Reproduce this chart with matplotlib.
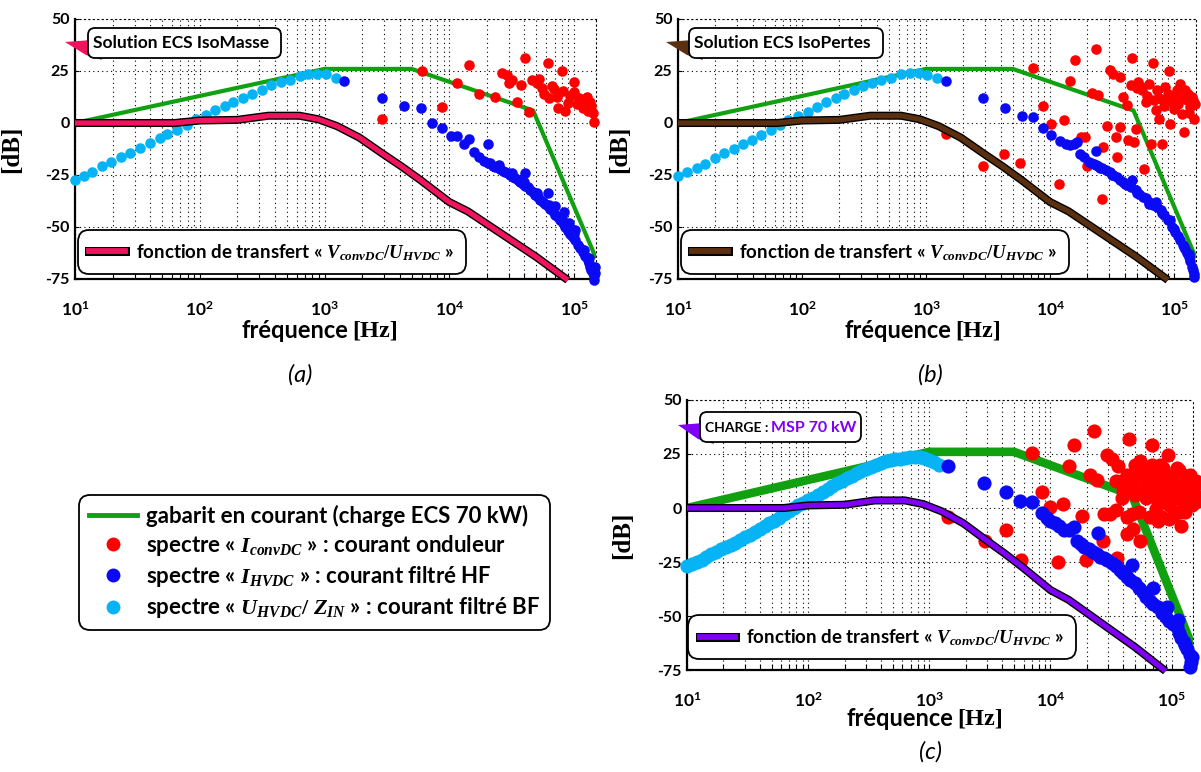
import numpy as np
import matplotlib
matplotlib.use('Agg')
import matplotlib.pyplot as plt
from matplotlib.lines import Line2D
from matplotlib.patches import FancyBboxPatch, Polygon
from matplotlib.transforms import IdentityTransform
import matplotlib.patheffects as pe
from matplotlib.ticker import FixedLocator, LogLocator, NullFormatter

plt.rcParams['font.family'] = ['Lato', 'DejaVu Sans']
plt.rcParams['font.weight'] = 'bold'
plt.rcParams['mathtext.fontset'] = 'custom'
plt.rcParams['mathtext.rm'] = 'Liberation Serif'
plt.rcParams['mathtext.it'] = 'Liberation Serif:italic'
plt.rcParams['mathtext.bf'] = 'Lato:bold'

# ---------------- data ----------------
x_ticks = [10, 100, 1000, 10000, 100000]
x_ticklabels = [r'$\mathbf{10^{1}}$', r'$\mathbf{10^{2}}$', r'$\mathbf{10^{3}}$',
                r'$\mathbf{10^{4}}$', r'$\mathbf{10^{5}}$']
y_ticks = [-75, -50, -25, 0, 25, 50]
y_ticklabels = ['-75', '-50', '-25', '0', '25', '50']

# current template (gabarit) [Hz], [dB]
gab_f = [10, 1000, 5000, 47000, 150000]
gab_db = [0, 26, 26, 6, -65]

# transfer function V_convDC/U_HVDC
tf_f = [10, 63, 100, 200, 355, 630, 890, 1260, 1900, 2880, 4170, 5900, 10000,
        14100, 25100, 50100, 89100]
tf_db = [0, 0, 1.2, 1.5, 3.5, 3.5, 1.8, -1.5, -7, -14.5, -21, -27.5, -38,
         -42.5, -52.5, -64.5, -75.5]

# ---- panel (a) : log10(f) and dB ----
cyan_a_logf = [1.00, 1.07, 1.14, 1.22, 1.29, 1.37, 1.44, 1.52, 1.60, 1.68, 1.74, 1.82,
               1.90, 1.97, 2.05, 2.12, 2.20, 2.27, 2.35, 2.42, 2.50, 2.57, 2.65, 2.72,
               2.80, 2.87, 2.94, 3.01, 3.09]
cyan_a_db = [-27.6, -25.5, -23.6, -20.8, -18.8, -16.3, -14.2, -12.0, -9.6, -7.2, -5.4, -3.2,
             -1.1, 2.1, 4.0, 6.1, 8.0, 10.1, 12.2, 14.1, 16.0, 18.1, 19.7, 20.8,
             22.5, 23.5, 23.6, 23.4, 21.6]

blue_a_logf = [3.16, 3.46, 3.64, 3.77, 3.86, 3.94, 4.01, 4.06, 4.12, 4.16, 4.31, 4.20, 4.24,
               4.28, 4.31, 4.33, 4.35, 4.37, 4.39, 4.41, 4.43, 4.45, 4.47, 4.49, 4.51, 4.53,
               4.55, 4.57, 4.59, 4.61, 4.63, 4.65, 4.67, 4.69, 4.71, 4.73, 4.75, 4.77, 4.79,
               4.81, 4.83, 4.85, 4.87, 4.89, 4.91, 4.93, 4.95, 4.97, 4.99, 5.01, 5.03, 5.05,
               5.07, 5.09, 5.11, 5.12, 5.13, 5.14, 5.15, 5.16, 5.16, 5.17, 5.17,
               4.40, 4.50, 4.60, 4.70, 4.80, 4.90, 5.00, 5.08, 5.12,
               4.61, 4.79, 4.92, 5.01, 4.85, 4.96]
blue_a_db = [20, 12, 8, 7.1, 0.2, -2.6, -6.3, -6.3, -10.1, -7.8, -10.1, -13.8, -16.2,
             -18.5, -19.4, -19.0, -20.5, -21.0, -21.0, -22.0, -23.0, -23.5, -24.2, -25.0, -26.0, -26.5,
             -27.4, -28.5, -29.5, -30.5, -31.0, -32.0, -33.0, -34.5, -35.4, -37.0, -38.0, -39.0, -40.0,
             -41.5, -42.5, -44.0, -45.0, -46.5, -48.0, -50.0, -52.0, -53.5, -55.0, -56.3, -58.5, -60.0,
             -62.0, -64.0, -66.0, -67.5, -69.0, -70.5, -72.0, -73.5, -75.5, -69.0, -72.0,
             -20.0, -24.0, -28.5, -33.5, -39.5, -45.5, -53.5, -61.0, -65.0,
             -24.2, -33.8, -42.6, -51.4, -40.0, -48.0]

red_a_logf = [3.46, 3.78, 3.94, 4.06, 4.16, 4.24, 4.37, 4.42, 4.46, 4.48, 4.50, 4.54, 4.575,
              4.61, 4.64, 4.66, 4.70, 4.72, 4.74, 4.76, 4.79, 4.80, 4.82, 4.84, 4.86, 4.87,
              4.90, 4.91, 4.93, 4.95, 4.97, 5.00, 5.00, 5.02, 5.04, 5.06, 5.07, 5.09, 5.10,
              5.11, 5.13, 5.14, 5.15, 5.16]
red_a_db = [1.8, 25.1, 7.8, 19.4, 27.9, 13.8, 12.7, 24.2, 23.0, 19.4, 20.5, 10.2, 18.3,
            31.4, 5.4, 20.7, 19.0, 21.0, 17.0, 14.0, 28.7, 11.9, 18.0, 16.5, 12.5, 7.0,
            25.1, 15.5, 6.0, 9.5, 13.0, 19.9, 15.0, 9.3, 12.0, 11.0, 7.0, 9.0, 12.5,
            6.0, 10.0, 8.0, 5.0, 0.6]

# ---- panel (b) ----
cyan_b_logf = [1.00, 1.07, 1.15, 1.22, 1.30, 1.37, 1.45, 1.52, 1.60, 1.67, 1.75, 1.82,
               1.89, 1.97, 2.05, 2.12, 2.19, 2.27, 2.34, 2.42, 2.49, 2.56, 2.64, 2.72,
               2.80, 2.87, 2.94, 3.01, 3.09]
cyan_b_db = [-25.6, -23.6, -21.5, -19.6, -16.7, -14.4, -12.3, -10.3, -8.3, -5.9, -3.5, -1.1,
             1.6, 3.2, 5.3, 7.7, 10.1, 12.0, 14.1, 16.0, 17.6, 19.2, 20.5, 21.8,
             23.4, 24.0, 24.0, 22.9, 21.8]

blue_b_logf = [3.16, 3.46, 3.64, 3.77, 3.86, 3.94, 4.01, 4.08, 4.13, 4.16, 4.19, 4.22, 4.37,
               4.24, 4.27, 4.31, 4.33, 4.35, 4.37, 4.39, 4.42, 4.45, 4.48, 4.51, 4.54, 4.56,
               4.59, 4.62, 4.65, 4.69, 4.72, 4.75, 4.77, 4.80, 4.83, 4.86, 4.89, 4.92, 4.95,
               4.98, 5.01, 5.03, 5.05, 5.07, 5.09, 5.10, 5.12, 5.13, 5.14, 5.15, 5.16, 5.16,
               4.40, 4.50, 4.60, 4.70, 4.80, 4.90, 5.00, 5.08, 5.12,
               4.66, 4.85, 4.97]
blue_b_db = [20, 12, 7.4, 3.4, 3.0, -2.6, -5.8, -8.5, -10.1, -10.7, -10.1, -9.0, -13.3,
             -14.9, -16.5, -18.6, -19.0, -19.8, -20.2, -20.7, -21.8, -22.5, -23.4, -24.8, -26.0, -27.4,
             -28.6, -30.0, -31.0, -32.2, -34.0, -35.5, -36.2, -38.0, -39.5, -40.5, -41.8, -44.0, -46.5,
             -49.9, -52.5, -54.5, -56.3, -58.5, -60.5, -62.7, -64.5, -66.5, -69.1, -70.5, -72.5, -73.9,
             -21.5, -25.0, -29.5, -33.5, -38.8, -43.5, -51.0, -59.5, -63.0,
             -27.4, -37.8, -46.6]

red_b_logf = [3.16, 3.46, 3.63, 3.76, 3.86, 3.94, 4.01, 4.07, 4.11, 4.16, 4.20, 4.25, 4.28,
              4.30, 4.34, 4.37, 4.39, 4.42, 4.43, 4.46, 4.48, 4.51, 4.53, 4.54, 4.56, 4.56,
              4.59, 4.62, 4.63, 4.65, 4.66, 4.68, 4.69, 4.71, 4.73, 4.76, 4.74, 4.77, 4.80,
              4.81, 4.83, 4.85, 4.86, 4.88, 4.90, 4.91, 4.93, 4.96, 4.97, 4.99, 5.00, 5.02,
              5.03, 5.05, 5.06, 5.08, 5.10, 5.11, 5.13, 5.14, 5.16, 5.17, 4.78, 4.84, 4.95,
              5.01, 5.04, 5.09, 5.12, 5.15, 4.70, 4.88, 4.92, 4.98]
red_b_db = [-5.1, -20.7, -14.7, -19.2, 26.6, 8.2, -0.6, -29.5, 1.3, 20.2, 30.3, -6.7, -6.7,
            -20.7, 14.4, 35.4, 13.3, -36.7, -11.5, -1.6, 25.3, 23.4, -6.7, -16.3, -1.9, 21.9,
            12.5, 8.5, -8.3, 18.1, 31.4, -9.1, -2.7, 19.9, 17.5, -22.3, 15.7, 10.1, 18.9,
            -10.3, 28.8, 6.1, 15.7, 2.1, -10.3, 10.9, 17.3, 25.0, -0.3, 12.5, 6.9, 15.7,
            9.3, 18.9, 4.5, -4.3, 10.9, 14.1, 7.7, 12.5, 2.1, 9.3, 13.0, 11.0, 14.0,
            8.0, 12.0, 16.0, 5.0, 11.0, 17.0, 12.0, 8.0, 10.0]

# ---- panel (c) ----
cyan_c_logf = [1.00, 1.04, 1.08, 1.12, 1.16, 1.20, 1.24, 1.28, 1.32, 1.36, 1.40, 1.44, 1.48,
               1.52, 1.56, 1.60, 1.64, 1.68, 1.72, 1.76, 1.80, 1.84, 1.88, 1.92, 1.96, 2.00,
               2.04, 2.08, 2.12, 2.16, 2.20, 2.24, 2.28, 2.32, 2.36, 2.40, 2.44, 2.48, 2.52,
               2.56, 2.60, 2.64, 2.68, 2.72, 2.76, 2.80, 2.84, 2.88, 2.92, 2.96, 3.00, 3.04, 3.08]
cyan_c_db = [-27, -26, -25, -24, -22.5, -21.5, -20.5, -19.2, -18, -17, -16, -14.8, -13.6,
             -12.4, -11, -9.6, -8.4, -7, -5.8, -4.4, -3, -1.6, -0.2, 1.2, 2.4, 3.6,
             4.8, 6.2, 7.6, 9, 10.2, 11.4, 12.6, 13.8, 15, 16, 17.2, 18.2, 19.2,
             20, 20.8, 21.6, 22.2, 22.6, 22.9, 23, 23.4, 23.6, 23.4, 23, 22.4, 21.4, 20]

blue_c_logf = [3.15, 3.45, 3.63, 3.75, 3.85, 3.93, 3.97, 4.00, 4.04, 4.07, 4.11, 4.15, 4.19,
               4.39, 4.22, 4.25, 4.28, 4.32, 4.35, 4.38, 4.41, 4.44, 4.47, 4.51, 4.54, 4.57,
               4.60, 4.63, 4.66, 4.70, 4.73, 4.76, 4.79, 4.82, 4.85, 4.89, 4.92, 4.95, 4.98,
               5.01, 5.04, 5.06, 5.08, 5.10, 5.11, 5.13, 5.15, 5.16, 5.15, 5.17,
               4.675, 4.85, 4.96, 5.05]
blue_c_db = [19.3, 11.5, 7.2, 3.1, 2.8, -2.5, -4.5, -5.8, -7.0, -8.2, -10.2, -10.0, -9.0,
             -11.7, -15.3, -16.5, -18.0, -19.2, -20.5, -21.5, -22.5, -23.2, -24.3, -25.5, -27.0, -28.5,
             -30.2, -32.0, -33.5, -34.9, -37.0, -39.0, -41.2, -43.0, -44.5, -45.9, -48.5, -50.5, -52.2,
             -53.8, -55.3, -58.0, -60.1, -62.0, -63.2, -65.5, -67.9, -71.1, -73.4, -69.0,
             -26.4, -37.2, -45.7, -52.0]

red_c_logf = [3.15, 3.46, 3.63, 3.76, 3.85, 3.93, 4.00, 4.06, 4.10, 4.15, 4.19, 4.26, 4.29,
              4.33, 4.36, 4.38, 4.43, 4.44, 4.47, 4.51, 4.54, 4.55, 4.56, 4.59, 4.60, 4.63,
              4.65, 4.67, 4.68, 4.70, 4.74, 4.76, 4.79, 4.82, 4.84, 4.86, 4.89, 4.91, 4.93,
              4.97, 4.98, 5.00, 5.01, 5.04, 5.06, 5.08, 5.09, 5.12, 5.15, 5.16, 5.17,
              4.63, 4.68, 4.73, 4.76, 4.79, 4.82, 4.85, 4.89, 4.92, 4.95, 4.98, 5.01, 5.04,
              5.08, 5.11, 5.14, 5.19, 5.20, 4.54, 4.59, 4.70, 4.73, 4.78, 4.84, 4.90, 4.95,
              5.03, 5.06, 5.11, 5.15, 5.19, 5.20, 4.98, 4.92, 4.87, 4.49, 4.63, 4.68, 4.74,
              5.07, 5.13, 5.18, 5.02, 4.88, 4.81, 5.10]
red_c_db = [-4.2, -15.3, -10.1, -24.2, 25.6, 7.5, 0.5, -25.2, 2.0, 19.3, 29.1, -3.5, -24.2,
            15.1, 35.5, 13.1, -15.3, -2.7, 24.5, 22.5, -1.1, -23.1, 19.3, 12.3, 7.9, -12.1,
            31.9, -2.7, -9.7, 20.1, -15.3, 18.6, 10.7, -4.2, 29.1, 17.0, -5.8, 6.8, 18.6,
            24.5, 10.7, 3.6, 15.4, 18.6, -1.9, -8.2, 10.7, 14.6, 6.0, 12.3, 1.3,
            15.4, 10.7, 17.0, 7.5, 4.4, 13.8, 9.1, 2.8, 12.3, 6.0, 1.3, -3.5, 6.0,
            10.7, 3.6, 9.1, 6.0, 2.8, 12.3, 4.4, 6.0, -1.9, 13.8, 20.1, 20.1, 15.4,
            10.7, 17.8, -1.9, 15.4, 10.7, 12.3, -5.0, -4.2, -0.3, -2.7, -4.2, 13.8, 21.7,
            5.0, 2.0, 8.0, 8.0, 5.0, 9.0, 1.0]

# big legend labels
legend_labels = ['gabarit en courant (charge ECS 70 kW)',
                 'spectre « $I_{convDC}$ » : courant onduleur',
                 'spectre « $I_{HVDC}$ » : courant filtré HF',
                 'spectre « $U_{HVDC}/\\ Z_{IN}$ » : courant filtré BF']
tf_label = 'fonction de transfert « $V_{convDC}/U_{HVDC}$ »'

# ---------------- styling ----------------
W, H = 1201, 772
C_GREEN = '#10a010'
C_RED = '#ff0000'
C_BLUE = '#0a0af5'
C_CYAN = '#06b4f5'
C_PINK = '#f0145f'
C_BROWN = '#5a3010'
C_PURPLE = '#8000f5'

fig = plt.figure(figsize=(W / 100, H / 100), dpi=100)
fig.patch.set_facecolor('white')

axA = fig.add_axes([75 / W, 1 - 279 / H, (596 - 75) / W, 260 / H])
axB = fig.add_axes([678 / W, 1 - 279 / H, (1196 - 678) / W, 260 / H])
axC = fig.add_axes([687 / W, 1 - 670 / H, (1193 - 687) / W, 270 / H])


def f_of(logs):
    return np.power(10.0, np.asarray(logs))


def setup(ax):
    ax.set_xscale('log')
    ax.set_xlim(10, 1.5e5)
    ax.set_ylim(-75, 50)
    ax.set_yticks(y_ticks)
    ax.set_yticklabels(y_ticklabels, fontsize=11.5, fontweight='bold')
    ax.xaxis.set_major_locator(FixedLocator(x_ticks))
    ax.set_xticklabels(x_ticklabels, fontsize=12.5)
    ax.xaxis.set_minor_locator(LogLocator(base=10, subs=np.arange(2, 10)))
    ax.xaxis.set_minor_formatter(NullFormatter())
    ax.tick_params(axis='x', which='both', direction='in', length=4, width=0.8, pad=15)
    ax.tick_params(axis='y', which='both', direction='in', length=3, width=0.8, pad=4)
    ax.grid(True, axis='x', which='both', linestyle=(0, (1, 3)), color='black', lw=0.8)
    ax.grid(True, axis='y', which='major', linestyle=(0, (1, 3)), color='black', lw=0.8)
    ax.set_axisbelow(True)
    for s in ['left', 'bottom']:
        ax.spines[s].set_linewidth(1.6)
    for s in ['top', 'right']:
        ax.spines[s].set_linestyle((0, (1, 3)))
        ax.spines[s].set_linewidth(0.8)
    ax.set_ylabel('[dB]', fontfamily='Liberation Serif', fontweight='bold', fontsize=18)


def xlabel(ax, xs, ys):
    ax.text(xs, ys, 'fréquence', transform=ax.transAxes, ha='right', va='center',
            fontsize=17, fontweight='bold')
    ax.text(xs + 0.008, ys, '[Hz]', transform=ax.transAxes, ha='left', va='center',
            fontsize=17.5, fontweight='bold', fontfamily='Liberation Serif')


def tf_legend(ax, color, anchor):
    h = Line2D([], [], color=color, lw=4.2,
               path_effects=[pe.Stroke(linewidth=6.5, foreground='black'), pe.Normal()])
    leg = ax.legend([h], [tf_label], loc='lower left', bbox_to_anchor=anchor,
                    borderaxespad=0, handlelength=1.9, handletextpad=0.6,
                    borderpad=0.32, fancybox=True, framealpha=1, edgecolor='black',
                    prop={'weight': 'bold', 'size': 13.5})
    leg.get_frame().set_linewidth(1.3)
    leg.get_frame().set_boxstyle('round,pad=0.3,rounding_size=0.6')
    leg.set_zorder(10)


def tag(x0, y0, x1, y1, color, tail):
    poly = Polygon([(px, H - py) for px, py in tail], closed=True, facecolor=color,
                   edgecolor='none', transform=IdentityTransform(), zorder=5)
    fig.add_artist(poly)
    box = FancyBboxPatch((x0, H - y1), x1 - x0, y1 - y0,
                         boxstyle='round,pad=0,rounding_size=7', facecolor='white',
                         edgecolor='black', lw=1.3, transform=IdentityTransform(), zorder=6)
    fig.add_artist(box)


def panel(ax, color, cyan_l, cyan_d, blue_l, blue_d, red_l, red_d, ms, gab_lw, tf_lw):
    setup(ax)
    ax.plot(gab_f, gab_db, color=C_GREEN, lw=gab_lw, zorder=2, solid_capstyle='butt')
    ax.plot(f_of(red_l), red_d, 'o', color=C_RED, ms=ms, mec='none', zorder=3, clip_on=False)
    ax.plot(f_of(cyan_l), cyan_d, 'o', color=C_CYAN, ms=ms, mec='none', zorder=3, clip_on=False)
    ax.plot(f_of(blue_l), blue_d, 'o', color=C_BLUE, ms=ms, mec='none', zorder=3, clip_on=False)
    ax.plot(tf_f, tf_db, color=color, lw=tf_lw, zorder=4, clip_on=False, solid_capstyle='butt',
            path_effects=[pe.Stroke(linewidth=tf_lw + 2.0, foreground='black'), pe.Normal()])


panel(axA, C_PINK, cyan_a_logf, cyan_a_db, blue_a_logf, blue_a_db, red_a_logf, red_a_db,
      7.6, 3.0, 3.8)
panel(axB, C_BROWN, cyan_b_logf, cyan_b_db, blue_b_logf, blue_b_db, red_b_logf, red_b_db,
      7.6, 3.0, 3.8)
panel(axC, C_PURPLE, cyan_c_logf, cyan_c_db, blue_c_logf, blue_c_db, red_c_logf, red_c_db,
      10.2, 6.2, 3.8)

for ax, xl in [(axA, -0.10), (axB, -0.09), (axC, -0.105)]:
    ax.yaxis.set_label_coords(xl, 0.5)

xlabel(axA, 0.525, -0.2)
xlabel(axB, 0.527, -0.2)
xlabel(axC, 0.527, -0.18)

tf_legend(axA, C_PINK, (0.016, 0.04))
tf_legend(axB, C_BROWN, (0.016, 0.04))
tf_legend(axC, C_PURPLE, (0.013, 0.06))

# annotation tags
tag(88, 28, 281, 58, C_PINK, [(65, 42), (92, 40), (102, 60), (86, 55)])
tag(689, 28, 883, 58, C_BROWN, [(666, 42), (693, 40), (703, 60), (687, 55)])
tag(700, 412, 861, 442, C_PURPLE, [(678, 425), (704, 423), (714, 444), (698, 439)])
fig.text(93 / W, 1 - 43 / H, 'Solution ECS IsoMasse', ha='left', va='center',
         fontsize=12.5, fontweight='bold', zorder=7)
fig.text(694 / W, 1 - 43 / H, 'Solution ECS IsoPertes', ha='left', va='center',
         fontsize=12.5, fontweight='bold', zorder=7)
fig.text(705 / W, 1 - 428 / H, 'CHARGE :', ha='left', va='center',
         fontsize=10, fontweight='bold', zorder=7)
fig.text(771 / W, 1 - 428 / H, 'MSP 70 kW', ha='left', va='center',
         fontsize=11.5, fontweight='bold', color=C_PURPLE, zorder=7)

# panel captions
for x, y, s in [(300, 375, '(a)'), (930, 375, '(b)'), (930, 752, '(c)')]:
    fig.text(x / W, 1 - y / H, s, ha='center', va='center', fontsize=17,
             fontstyle='italic', fontweight='normal')

# big legend
handles = [Line2D([], [], color=C_GREEN, lw=3.5),
           Line2D([], [], ls='none', marker='o', color=C_RED, ms=10, mec='none'),
           Line2D([], [], ls='none', marker='o', color=C_BLUE, ms=10, mec='none'),
           Line2D([], [], ls='none', marker='o', color=C_CYAN, ms=10, mec='none')]
bl = fig.legend(handles, legend_labels, loc='upper left', bbox_to_anchor=(83 / W, 1 - 499 / H),
                borderaxespad=0, handlelength=2.2, handletextpad=0.4, labelspacing=0.28,
                borderpad=0.25, fancybox=True, framealpha=1, edgecolor='black',
                prop={'weight': 'bold', 'size': 16})
bl.get_frame().set_linewidth(1.3)
bl.get_frame().set_boxstyle('round,pad=0.2,rounding_size=0.5')

fig.savefig('out.png', dpi=100)
